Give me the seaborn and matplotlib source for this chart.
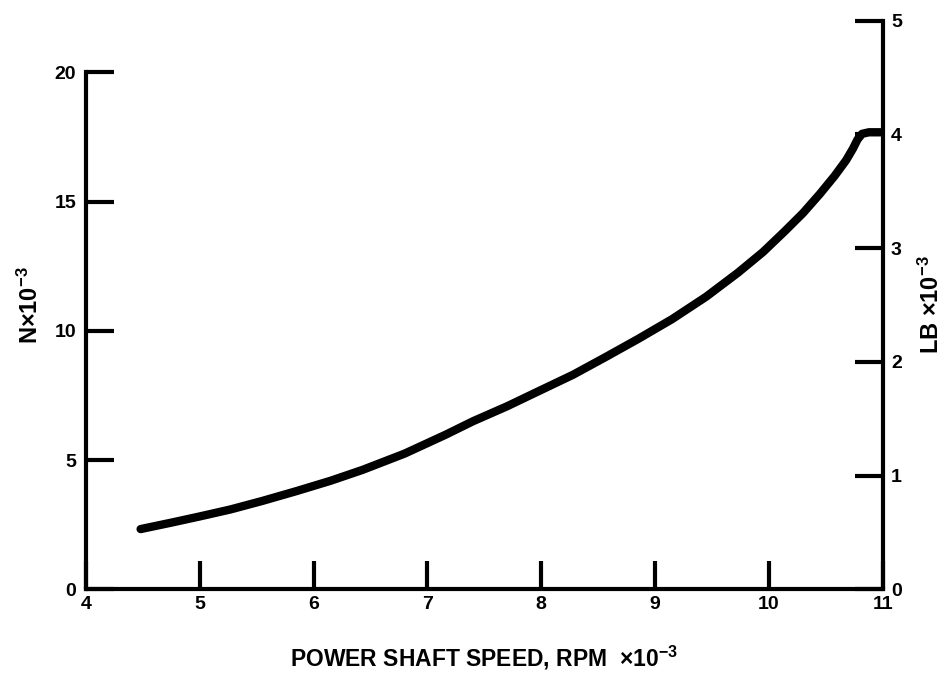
import matplotlib
matplotlib.use("Agg")
import matplotlib.pyplot as plt
import seaborn as sns
import pandas as pd

# curve: shaft speed (RPM x 10^-3) vs force (N x 10^-3)
speed = [4.48, 4.75, 5.00, 5.27, 5.55, 5.85, 6.15, 6.43, 6.80, 7.16, 7.40,
         7.70, 7.98, 8.28, 8.56, 8.85, 9.15, 9.45, 9.73, 9.95, 10.14, 10.30,
         10.45, 10.58, 10.68, 10.74, 10.78, 10.82, 10.88, 10.98]
force = [2.33, 2.58, 2.82, 3.09, 3.42, 3.80, 4.20, 4.62, 5.25, 5.98, 6.50,
         7.08, 7.67, 8.30, 8.97, 9.68, 10.45, 11.32, 12.25, 13.05, 13.85, 14.55,
         15.30, 16.00, 16.60, 17.05, 17.40, 17.62, 17.68, 17.68]

x_ticks = [4, 5, 6, 7, 8, 9, 10, 11]
n_ticks = [0, 5, 10, 15, 20]
lb_ticks = [0, 1, 2, 3, 4, 5]
n_per_lb = 4.4  # scale of right axis against left

sns.set_style("white")
plt.rcParams['font.family'] = ['Liberation Sans', 'DejaVu Sans']
plt.rcParams['mathtext.fontset'] = 'custom'
plt.rcParams['mathtext.rm'] = 'Liberation Sans:bold'
plt.rcParams['mathtext.default'] = 'rm'
plt.rcParams['text.color'] = 'black'
plt.rcParams['axes.labelcolor'] = 'black'
plt.rcParams['xtick.color'] = 'black'
plt.rcParams['ytick.color'] = 'black'
plt.rcParams['font.weight'] = 'bold'
plt.rcParams['axes.labelweight'] = 'bold'

df = pd.DataFrame({"speed": speed, "force": force})

fig = plt.figure(figsize=(9.49, 6.77), dpi=100)
ax = fig.add_axes([0.0906, 0.1295, 0.8394, 0.8401])
sns.lineplot(data=df, x="speed", y="force", color="black", lw=6,
             sort=False, ax=ax, solid_capstyle="round", solid_joinstyle="round")

ax.set_xlim(4, 11)
ax.set_ylim(0, 5 * n_per_lb)
ax.set_xticks(x_ticks)
ax.set_yticks(n_ticks)
for s in ["top", "right"]:
    ax.spines[s].set_visible(False)
ax.spines["left"].set_bounds(0, 20)
for s in ["left", "bottom"]:
    ax.spines[s].set_linewidth(3)
    ax.spines[s].set_color("black")
ax.tick_params(axis="both", direction="in", length=20, width=3, color="black",
               labelsize=14, pad=5, bottom=True, left=True)
ax.tick_params(axis="y", pad=7)
ax.set_xlabel(r"POWER SHAFT SPEED, RPM  $\times 10^{-3}$", fontsize=16.5,
              labelpad=22)
ax.set_ylabel(r"N$\times$10$^{-3}$", fontsize=17, labelpad=8)

ax2 = ax.twinx()
ax2.set_ylim(0, 5)
ax2.set_yticks(lb_ticks)
for s in ["top", "left", "bottom"]:
    ax2.spines[s].set_visible(False)
ax2.spines["right"].set_linewidth(3)
ax2.spines["right"].set_color("black")
ax2.tick_params(axis="y", direction="in", length=20, width=3, color="black",
                labelsize=14, pad=6, right=True)
ax2.set_ylabel(r"LB $\times$10$^{-3}$", fontsize=17, labelpad=12)

fig.savefig("out.png", dpi=100)
